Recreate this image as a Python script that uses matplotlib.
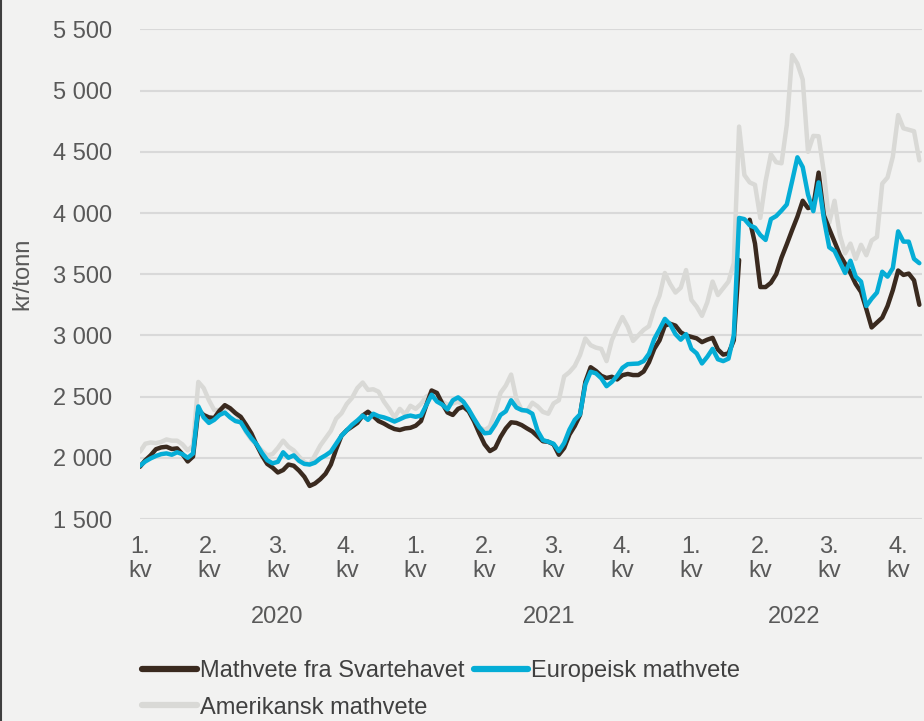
import numpy as np
import matplotlib
matplotlib.use("Agg")
import matplotlib.pyplot as plt
from matplotlib.lines import Line2D
from matplotlib.transforms import blended_transform_factory

plt.rcParams["font.family"] = ["Liberation Sans", "DejaVu Sans"]

# weekly prices, kr/tonn, from week 1 2020
svartehavet = [
    1927, 1980, 2020, 2070, 2085, 2090, 2072, 2077, 2030, 1970, 2010,
    2390, 2350, 2330, 2325, 2385, 2430, 2405, 2365, 2335, 2270, 2200, 2105, 2020, 1950, 1920,
    1880, 1900, 1945, 1935, 1895, 1845, 1770, 1790, 1825, 1870, 1945, 2070, 2180,
    2225, 2255, 2285, 2345, 2376, 2340, 2300, 2280, 2255, 2235, 2227, 2240,
    2245, 2262, 2300, 2430, 2550, 2530, 2445, 2370, 2350, 2400, 2417, 2380, 2300,
    2200, 2110, 2055, 2080, 2170, 2240, 2290, 2285, 2267, 2240, 2215, 2175,
    2135, 2131, 2110, 2025, 2080, 2190, 2260, 2350, 2620, 2740, 2710, 2670, 2652,
    2662, 2640, 2675, 2685, 2676, 2676, 2705, 2780, 2890, 2960, 3080, 3095,
    3080, 3025, 3000, 2988, 2976, 2945, 2965, 2980, 2885, 2843, 2853, 2960,
    3616, np.nan, 3945, 3750, 3395, 3395, 3430, 3500, 3635, 3745, 3860, 3970,
    4100, 4040, 4055, 4330,
    3980, 3870, 3765, 3660, 3585, 3510, 3420, 3355, 3215, 3065, 3105, 3145,
    3240, 3370, 3530, 3494, 3505, 3450, 3250,
]

europeisk = [
    1935, 1970, 1995, 2015, 2030, 2036, 2025, 2045, 2030, 2000, 2035,
    2420, 2330, 2285, 2310, 2350, 2370, 2330, 2300, 2290, 2220, 2160, 2110, 2040, 1980, 1955,
    1967, 2045, 2000, 2020, 1975, 1950, 1945, 1960, 1995, 2020, 2050, 2115, 2180,
    2225, 2270, 2305, 2345, 2310, 2360, 2340, 2330, 2315, 2296, 2315, 2335,
    2345, 2335, 2345, 2430, 2515, 2460, 2435, 2395, 2470, 2494, 2458, 2395, 2320,
    2250, 2200, 2205, 2270, 2350, 2380, 2470, 2410, 2390, 2385, 2360, 2220,
    2145, 2131, 2115, 2055, 2120, 2230, 2310, 2355, 2600, 2703, 2690, 2650, 2585,
    2620, 2670, 2735, 2765, 2768, 2770, 2790, 2850, 2970, 3050, 3135, 3090,
    3010, 2965, 3010, 2890, 2853, 2771, 2825, 2890, 2805, 2790, 2810, 3000,
    3960, 3950, 3900, 3880, 3820, 3780, 3950, 3975, 4020, 4070, 4260, 4455,
    4375, 4150, 4015, 4250,
    3950, 3720, 3690, 3600, 3510, 3610, 3480, 3440, 3240, 3300, 3350, 3520,
    3480, 3550, 3850, 3766, 3766, 3625, 3590,
]

amerikansk = [
    2050, 2115, 2125, 2120, 2130, 2150, 2140, 2140, 2110, 2060, 2100,
    2620, 2570, 2470, 2390, 2390, 2410, 2400, 2370, 2300, 2210, 2150, 2104, 2060, 2020, 2030,
    2080, 2140, 2090, 2060, 2010, 1965, 1945, 2020, 2100, 2160, 2220, 2320, 2363,
    2440, 2490, 2570, 2615, 2555, 2560, 2540, 2460, 2400, 2330, 2400, 2355,
    2425, 2400, 2440, 2500, 2525, 2475, 2460, 2435, 2444, 2458, 2431, 2390, 2320,
    2250, 2225, 2255, 2380, 2530, 2590, 2680, 2480, 2390, 2380, 2450, 2420,
    2375, 2360, 2444, 2470, 2665, 2700, 2750, 2840, 2975, 2920, 2900, 2890, 2790,
    2960, 3060, 3150, 3070, 2955, 3000, 3045, 3075, 3220, 3325, 3510, 3420,
    3350, 3390, 3534, 3290, 3235, 3160, 3270, 3440, 3330, 3385, 3440, 3590,
    4706, 4310, 4250, 4230, 3960, 4260, 4480, 4415, 4406, 4720, 5290, 5220,
    5090, 4500, 4630, 4627,
    4330, 3920, 4100, 3820, 3670, 3750, 3625, 3740, 3655, 3775, 3804, 4240,
    4290, 4460, 4800, 4692, 4680, 4668, 4430,
]

quarter_labels = ["1.\nkv", "2.\nkv", "3.\nkv", "4.\nkv"] * 3
years = ["2020", "2021", "2022"]
series_names = ["Mathvete fra Svartehavet", "Europeisk mathvete", "Amerikansk mathvete"]

bg = "#f2f2f1"
c_black = "#3a2a1f"
c_blue = "#05add6"
c_gray = "#d9d9d6"
txt = "#595959"

fig = plt.figure(figsize=(9.24, 7.21), dpi=100, facecolor=bg)
ax = fig.add_axes([140 / 924, 1 - 519 / 721, 782 / 924, (519 - 29.4) / 721])
ax.set_facecolor(bg)

weeks = np.arange(len(svartehavet))
l_gray, = ax.plot(weeks, amerikansk, color=c_gray, lw=3.2, solid_capstyle="round", zorder=3)
l_black, = ax.plot(weeks, svartehavet, color=c_black, lw=3.2, solid_capstyle="round", zorder=4)
l_blue, = ax.plot(weeks, europeisk, color=c_blue, lw=3.2, solid_capstyle="round", zorder=5)

ax.set_xlim(0, 147.5)
ax.set_ylim(1500, 5500)
ax.set_yticks(np.arange(1500, 5501, 500))
ax.set_yticklabels([f"{v:,}".replace(",", " ") for v in range(1500, 5501, 500)])
ax.grid(axis="y", color="#d9d9d9", lw=1.5, zorder=0)
ax.set_axisbelow(True)
for s in ax.spines.values():
    s.set_visible(False)

ax.set_xticks(np.arange(0, 13 * 12, 13))
ax.set_xticklabels(quarter_labels, linespacing=1.15)
ax.tick_params(axis="both", length=0, labelsize=17, colors=txt)
ax.tick_params(axis="y", pad=20)
ax.tick_params(axis="x", pad=12)

ax.set_ylabel("kr/tonn", fontsize=17, color=txt, labelpad=14)

tr = blended_transform_factory(ax.transData, fig.transFigure)
for yr, xc in zip(years, [25.8, 77.2, 123.3]):
    ax.text(xc, 1 - 617 / 721, yr, transform=tr, ha="center", va="center",
            fontsize=17, color=txt)

handles = [l_black, l_gray, l_blue]
labels = [series_names[0], series_names[2], series_names[1]]
leg = fig.legend(handles, labels, ncol=2, loc="upper left",
                 bbox_to_anchor=(133 / 924, 1 - 651 / 721), frameon=False,
                 fontsize=17, handlelength=2.3, handletextpad=0.12,
                 columnspacing=0.4, labelspacing=0.6, borderaxespad=0)
for t in leg.get_texts():
    t.set_color("#404040")
for h in leg.legend_handles:
    h.set_linewidth(4.5)
    h.set_solid_capstyle("round")

fig.add_artist(Line2D([0.0008, 0.0008], [0, 1], transform=fig.transFigure,
                      color="#404040", lw=1.5))

fig.savefig("out.png", dpi=100, facecolor=bg)
